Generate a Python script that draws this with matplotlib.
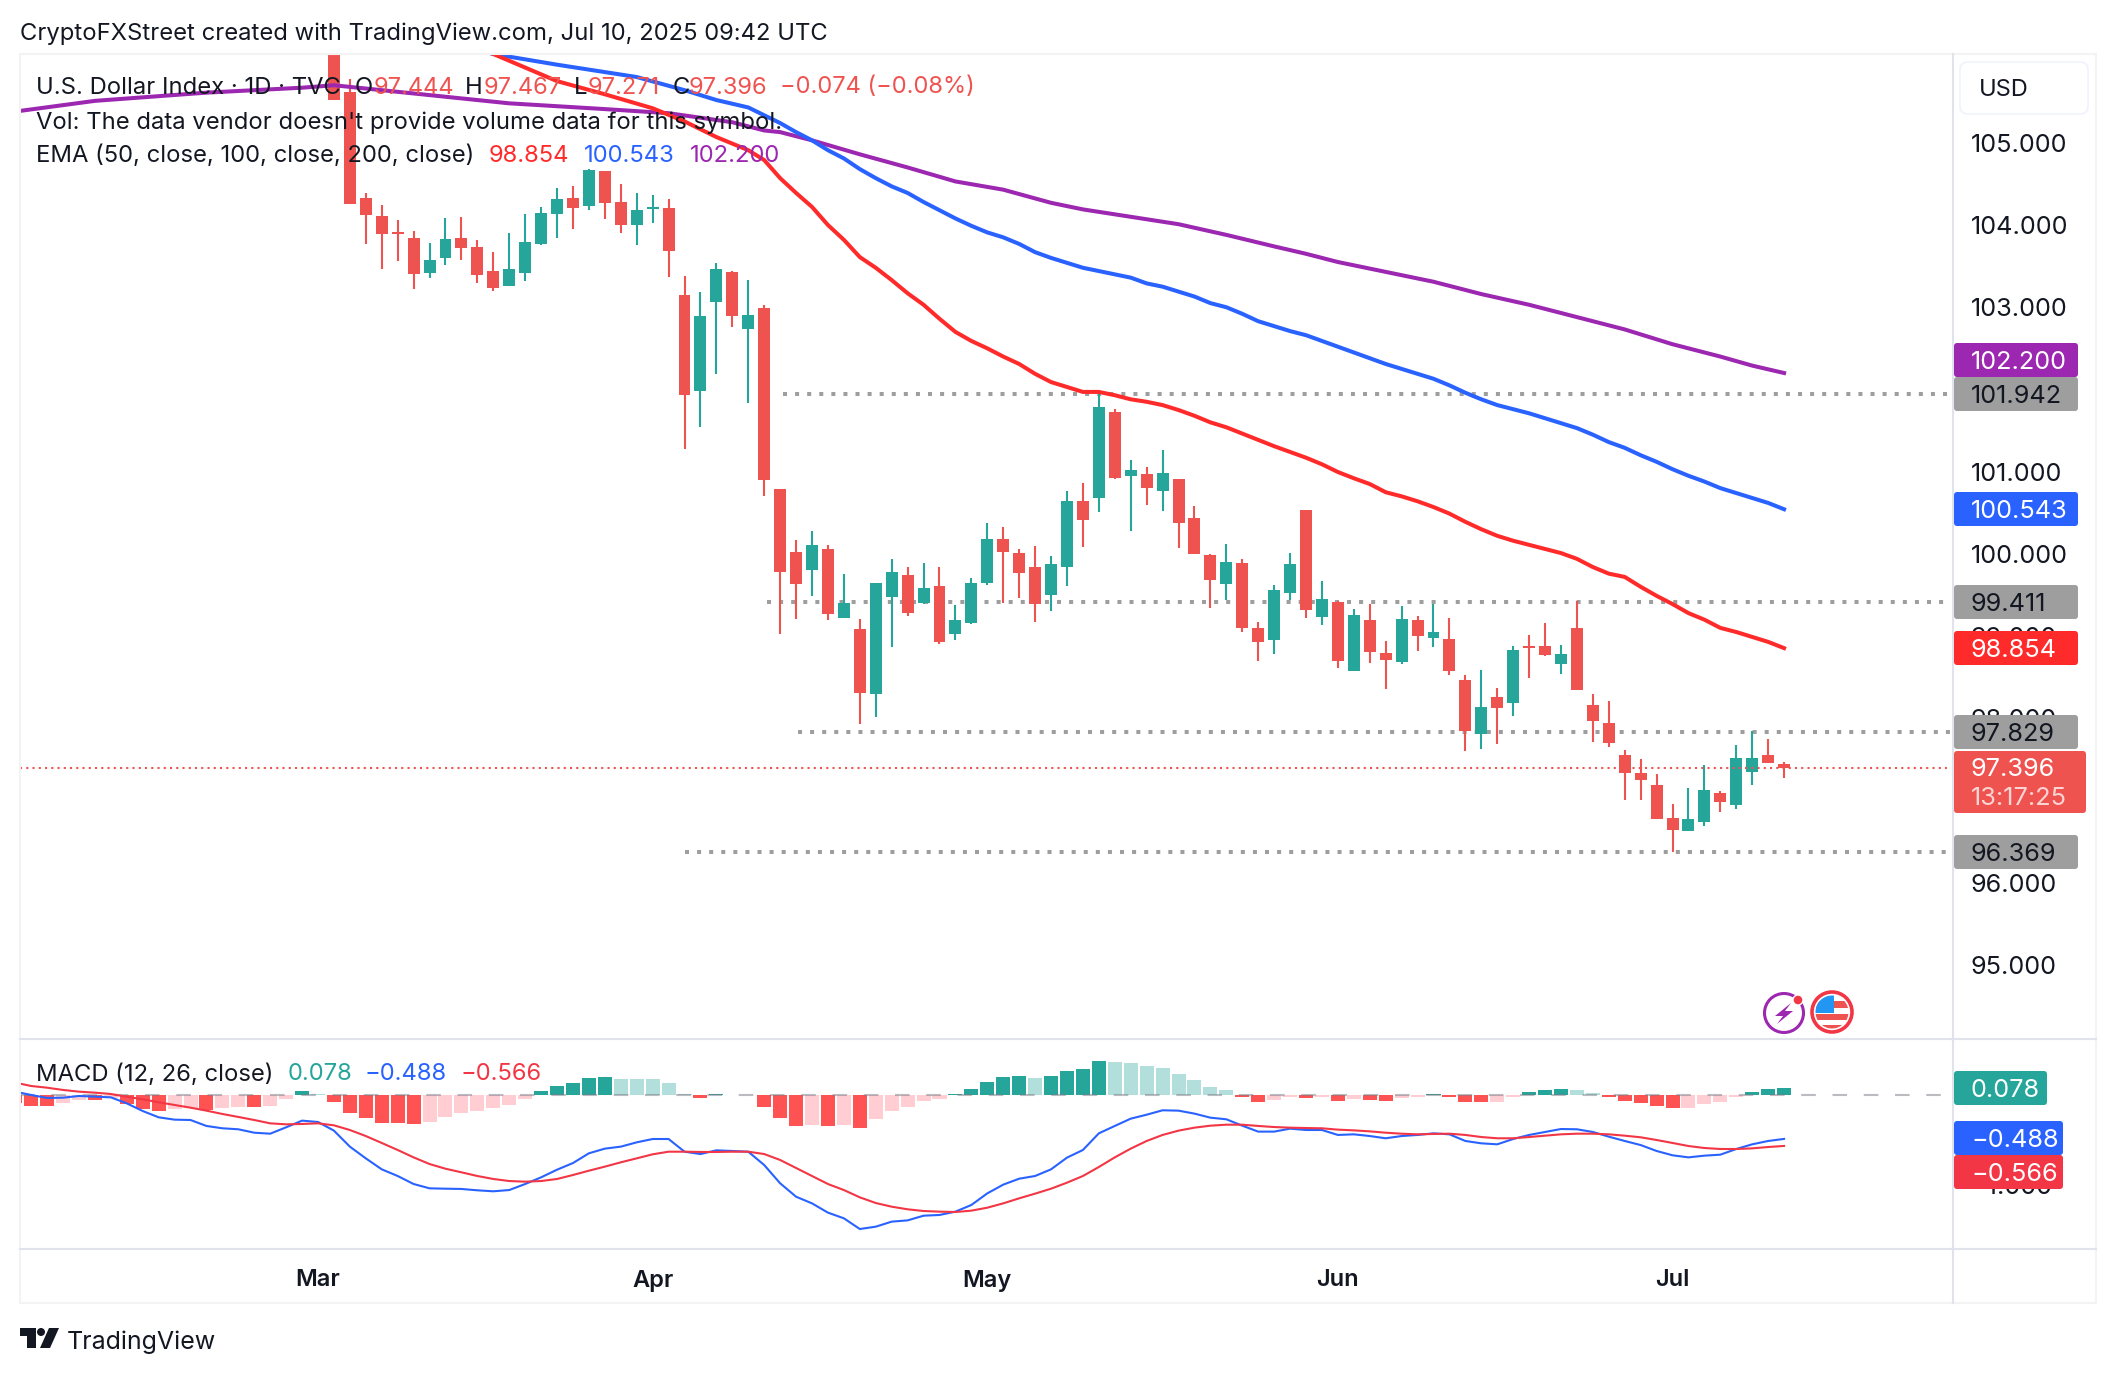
#Daily U.S. Dollar Index chart with EMAs and MACD, TradingView look

from matplotlib import pyplot as plt
from matplotlib.patches import FancyBboxPatch, Circle, Polygon, Rectangle
from matplotlib.transforms import blended_transform_factory
import numpy as np

plt.rcParams['font.family'] = ['Inter', 'DejaVu Sans']

#candles, bar 91 is Jul 10
opens = [106.60,105.62,104.33,104.11,103.91,103.84,103.42,103.60,103.84,103.73,103.44,103.26,103.42,103.77,104.13,104.33,104.23,104.66,104.28,104.00,104.19,104.21,103.15,101.98,103.06,103.43,102.73,102.99,100.79,100.02,99.81,100.06,99.22,99.09,98.30,99.47,99.74,99.40,99.61,99.03,99.16,99.65,100.18,100.01,99.84,99.50,99.84,100.64,100.68,101.73,100.95,100.97,100.77,100.91,100.44,99.99,99.63,99.89,99.10,98.95,99.53,100.54,99.23,99.42,98.58,99.19,98.80,98.69,99.20,98.98,98.97,98.47,97.81,98.26,98.19,98.88,98.88,98.66,99.10,98.16,97.94,97.56,97.34,97.19,96.79,96.63,96.74,97.09,96.95,97.35,97.56,97.444]
highs = [106.70,105.77,104.39,104.24,104.06,103.93,103.78,104.09,104.10,103.82,103.67,103.90,104.13,104.22,104.45,104.47,104.68,104.66,104.50,104.39,104.37,104.32,103.38,103.19,103.54,103.44,103.33,103.03,100.79,100.17,100.28,100.11,99.76,99.21,99.65,99.94,99.84,99.89,99.84,99.38,99.71,100.38,100.33,100.06,100.10,99.97,100.77,100.86,101.98,101.76,101.14,101.06,101.26,100.91,100.58,100.00,100.12,99.94,99.17,99.62,100.01,100.54,99.67,99.43,99.33,99.39,98.94,99.37,99.24,99.39,99.22,98.53,98.59,98.37,98.88,99.01,99.16,98.89,99.43,98.29,98.21,97.62,97.51,97.32,96.96,97.15,97.43,97.12,97.68,97.85,97.75,97.467]
lows = [105.52,104.25,103.77,103.46,103.56,103.22,103.35,103.51,103.57,103.29,103.20,103.26,103.32,103.76,103.84,103.95,104.18,104.07,103.90,103.76,104.02,103.37,101.28,101.54,102.19,102.76,101.84,100.70,99.02,99.21,99.49,99.19,99.22,97.93,98.02,98.87,99.24,99.39,98.91,98.95,99.15,99.62,99.40,99.46,99.17,99.30,99.61,100.08,100.51,100.91,100.28,100.60,100.52,100.07,100.00,99.34,99.44,99.05,98.70,98.78,99.44,99.22,99.14,98.61,98.58,98.67,98.36,98.66,98.82,98.87,98.53,97.60,97.63,97.69,98.03,98.49,98.76,98.54,98.35,97.71,97.65,97.01,97.01,96.78,96.37,96.63,96.69,96.86,96.90,97.19,97.46,97.271]
closes = [105.52,104.25,104.12,103.89,103.89,103.40,103.57,103.83,103.72,103.39,103.24,103.46,103.79,104.15,104.32,104.21,104.67,104.27,104.00,104.18,104.22,103.68,101.93,102.89,103.47,102.89,102.90,100.90,99.78,99.63,100.11,99.27,99.40,98.31,99.65,99.78,99.28,99.59,98.93,99.20,99.65,100.18,100.02,99.77,99.39,99.88,100.64,100.41,101.79,100.92,101.02,100.80,100.98,100.38,100.00,99.68,99.90,99.10,98.93,99.56,99.88,99.32,99.45,98.70,99.26,98.81,98.71,99.21,99.00,99.05,98.58,97.84,98.14,98.13,98.83,98.86,98.77,98.78,98.35,97.97,97.70,97.34,97.25,96.78,96.64,96.78,97.13,96.98,97.52,97.52,97.46,97.396]

#EMA lines, read at these bars
ema50_bars = [8,10,14,17,20,22,24,26,27,28,29,30,31,32,33,34,35,36,37,38,39,40,41,42,43,44,45,47,48,49,50,51,52,53,54,55,56,59,60,61,62,63,64,65,66,67,68,69,70,71,72,73,74,75,76,77,78,79,80,81,82,83,84,85,86,87,88,89,90,91]
ema50 = [106.24,106.08,105.75,105.59,105.42,105.26,105.07,104.91,104.79,104.57,104.39,104.22,104.00,103.82,103.61,103.48,103.33,103.17,103.03,102.86,102.70,102.59,102.50,102.40,102.31,102.19,102.09,101.97,101.97,101.93,101.88,101.85,101.81,101.75,101.68,101.60,101.54,101.31,101.24,101.17,101.09,100.996,100.92,100.85,100.75,100.70,100.64,100.57,100.49,100.39,100.30,100.22,100.16,100.11,100.06,100.01,99.94,99.84,99.76,99.72,99.60,99.49,99.39,99.28,99.20,99.10,99.05,98.99,98.93,98.854]
ema100_bars = [9,10,14,19,22,24,26] + list(range(28,92))
ema100 = [106.13,106.08,105.95,105.80,105.64,105.52,105.43,105.24,105.13,105.03,104.91,104.81,104.68,104.57,104.47,104.39,104.28,104.18,104.08,103.99,103.91,103.85,103.77,103.67,103.60,103.54,103.48,103.44,103.40,103.36,103.29,103.25,103.19,103.13,103.05,103.00,102.92,102.83,102.77,102.71,102.66,102.59,102.52,102.45,102.38,102.31,102.25,102.19,102.13,102.05,101.96,101.88,101.81,101.76,101.71,101.65,101.59,101.53,101.45,101.36,101.29,101.20,101.12,101.03,100.95,100.88,100.80,100.74,100.68,100.62,100.543]
ema200_bars = [-20,-15,-8,-2,0,5,11,17,21,25,27,28,30,33,36,39,42,45,47,50,53,56,59,61,63,66,69,72,75,78,81,84,87,89,91]
ema200 = [105.38,105.51,105.61,105.67,105.70,105.60,105.48,105.41,105.36,105.25,105.15,105.13,105.03,104.86,104.70,104.53,104.43,104.27,104.19,104.10,104.01,103.88,103.74,103.65,103.55,103.43,103.31,103.16,103.03,102.88,102.73,102.55,102.40,102.29,102.200]

#MACD pane, bars -20 to 91
macd_bars = list(range(-20,92))
macd_line = [0.037,0,-0.033,-0.030,-0.011,-0.019,-0.026,-0.093,-0.178,-0.248,-0.274,-0.278,-0.344,-0.370,-0.381,-0.419,-0.430,-0.359,-0.285,-0.300,
-0.396,-0.574,-0.704,-0.826,-0.900,-0.989,-1.037,-1.041,-1.044,-1.059,-1.070,-1.056,-0.989,-0.915,-0.830,-0.756,-0.648,-0.596,-0.574,-0.526,-0.489,-0.489,-0.630,-0.656,
-0.615,-0.622,-0.630,-0.778,-0.981,-1.130,-1.204,-1.307,-1.370,-1.489,-1.463,-1.407,-1.393,-1.341,-1.333,-1.296,-1.222,-1.093,-0.996,-0.930,-0.900,-0.826,-0.696,-0.611,-0.426,-0.344,-0.263,-0.219,-0.170,-0.174,-0.207,-0.252,-0.270,-0.341,-0.407,-0.407,-0.374,-0.389,-0.389,-0.444,-0.437,-0.456,-0.481,-0.456,
-0.444,-0.426,-0.437,-0.511,-0.537,-0.548,-0.489,-0.444,-0.411,-0.378,-0.381,-0.411,-0.463,-0.511,-0.556,-0.622,-0.670,-0.693,-0.674,-0.663,-0.600,-0.548,-0.511,-0.488]
signal_line = [0.137,0.100,0.081,0.056,0.037,0.026,0.011,-0.019,-0.048,-0.081,-0.111,-0.141,-0.174,-0.211,-0.244,-0.278,-0.315,-0.326,-0.322,-0.315,
-0.337,-0.389,-0.456,-0.533,-0.611,-0.693,-0.767,-0.819,-0.859,-0.900,-0.933,-0.956,-0.963,-0.956,-0.933,-0.889,-0.841,-0.796,-0.748,-0.704,-0.659,-0.630,-0.630,-0.633,
-0.633,-0.630,-0.630,-0.656,-0.722,-0.811,-0.900,-0.989,-1.056,-1.137,-1.200,-1.241,-1.270,-1.289,-1.296,-1.300,-1.285,-1.252,-1.204,-1.148,-1.096,-1.041,-0.974,-0.900,-0.800,-0.693,-0.596,-0.511,-0.444,-0.396,-0.363,-0.341,-0.330,-0.330,-0.344,-0.356,-0.363,-0.367,-0.370,-0.385,-0.393,-0.404,-0.419,-0.430,
-0.437,-0.433,-0.430,-0.444,-0.467,-0.481,-0.481,-0.467,-0.452,-0.437,-0.430,-0.430,-0.437,-0.452,-0.470,-0.500,-0.533,-0.567,-0.589,-0.600,-0.600,-0.593,-0.578,-0.566]
hist = [-0.09,-0.12,-0.12,-0.09,-0.055,-0.06,-0.03,-0.10,-0.155,-0.175,-0.16,-0.15,-0.165,-0.15,-0.13,-0.13,-0.12,-0.045,0.04,0.007,
-0.08,-0.195,-0.26,-0.31,-0.31,-0.32,-0.295,-0.24,-0.195,-0.175,-0.15,-0.11,-0.04,0.04,0.10,0.135,0.19,0.20,0.18,0.18,0.18,0.135,0.007,-0.03,
0.007,0.005,0.005,-0.13,-0.26,-0.34,-0.33,-0.35,-0.33,-0.363,-0.263,-0.175,-0.13,-0.063,-0.04,0.012,0.067,0.145,0.20,0.21,0.19,0.21,0.267,0.29,0.378,0.367,0.355,0.32,0.30,0.233,0.167,0.09,0.055,-0.02,-0.075,-0.052,-0.02,-0.03,-0.02,-0.063,-0.04,-0.052,-0.063,-0.03,
-0.02,0.007,-0.02,-0.075,-0.075,-0.075,-0.02,0.033,0.055,0.067,0.055,0.02,-0.02,-0.063,-0.085,-0.12,-0.14,-0.14,-0.096,-0.075,-0.02,0.033,0.067,0.078]
#S for the strong shade of a histogram bar, L for the light one
hist_shade = "SSSLLSLSSSLLSLLSLLSL" + "SSSSSSLLLLLLLSSSSSLLLLLS" + "SLLSSSLSLSLLLLLSSSSSLSSSSLLLLLLLLSSLLSLSLSSL" + "LSSSSLLSSSLLSSSSSLLLLSSS"

#horizontal levels drawn on the chart: price, first bar
level_prices = [101.942, 99.411, 97.829, 96.369]
level_starts = [28.2, 27.2, 29.1, 22.0]
last_price = 97.396

price_ticks = [105, 104, 103, 101, 100, 99, 98, 96, 95]
month_names = ['Mar', 'Apr', 'May', 'Jun', 'Jul']
month_bars = [-1, 20, 41, 63, 84]

GREEN = '#26A69A'
RED = '#EF5350'
BLUE = '#2962FF'
PURPLE = '#9C27B0'
EMA_RED = '#FF2B2B'
MACD_RED = '#F23645'
INK = '#131722'
GREY = '#9E9E9E'
FS = 17.15
SCALE_FS = 18.2

W, H = 2116, 1374
fig = plt.figure(figsize=(W/100, H/100), dpi=100, facecolor='white')

def pane(top, bottom):
    return fig.add_axes([20/W, 1-bottom/H, (1953-20)/W, (bottom-top)/H], facecolor='none')

ax = pane(54, 1039)
ax2 = pane(1039, 1249)
#whole figure in pixels, for the frame, price scale and legends
over = fig.add_axes([0, 0, 1, 1], facecolor='none', zorder=5)
over.set_xlim(0, W)
over.set_ylim(H, 0)
over.axis('off')

for a in (ax, ax2):
    a.set_xlim(-19.7, 101.6)
    a.axis('off')
ax.set_ylim(94.10, 106.08)
ax2.set_ylim(-1.711, 0.622)

#candles
bars = np.arange(len(opens))
o = np.array(opens)
c = np.array(closes)
colors = [GREEN if c[i] >= o[i] else RED for i in bars]
ax.vlines(bars, lows, highs, colors=colors, linewidth=1.5, zorder=3)
ax.bar(bars, np.abs(c-o), bottom=np.minimum(o, c), width=0.75, color=colors, linewidth=0, zorder=3)

#EMAs
ax.plot(ema200_bars, ema200, color=PURPLE, linewidth=2.9, zorder=4)
ax.plot(ema100_bars, ema100, color=BLUE, linewidth=2.9, zorder=4)
ax.plot(ema50_bars, ema50, color=EMA_RED, linewidth=2.9, zorder=4)

#level lines run up to the price scale
for price, start in zip(level_prices, level_starts):
    ax.plot([start, 101.4], [price, price], color=GREY, linewidth=2.9, linestyle=(0, (1, 2)),
            dash_capstyle='butt', zorder=2)
ax.plot([-19.7, 101.2], [last_price, last_price], color=RED, linewidth=1.5, linestyle=(0, (1, 2)),
        dash_capstyle='butt', zorder=5)

#MACD
hist_colors = []
for v, s in zip(hist, hist_shade):
    if v >= 0:
        hist_colors.append('#26A69A' if s == 'S' else '#B2DFDB')
    else:
        hist_colors.append('#FF5252' if s == 'S' else '#FFCDD2')
ax2.bar(macd_bars, hist, width=0.88, color=hist_colors, linewidth=0, zorder=2)
ax2.axhline(0, color='#787B86', alpha=0.5, linewidth=1.5, linestyle=(0, (7, 8)), zorder=3)
ax2.plot(macd_bars, macd_line, color=BLUE, linewidth=1.5, zorder=4)
ax2.plot(macd_bars, signal_line, color=MACD_RED, linewidth=1.5, zorder=4)

#frame and pane separators
frame = '#F3F3F3'
sep = '#E0E3EB'
over.add_patch(Rectangle((19.5, 53.5), 2096-19.5, 1303-53.5, fill=False, edgecolor=frame, linewidth=1.5))
over.plot([1953, 1953], [54, 1303], color=sep, linewidth=1.5)
over.plot([20, 2096], [1039, 1039], color=sep, linewidth=1.5)
over.plot([20, 2096], [1249, 1249], color=sep, linewidth=1.5)

def txt(x, y, s, color=INK, **kw):
    kw.setdefault('fontsize', FS)
    return over.text(x, y, s, color=color, va='center_baseline', ha=kw.pop('ha', 'left'), **kw)

def box(x0, x1, y0, y1, color):
    over.add_patch(FancyBboxPatch((x0, y0), x1-x0, y1-y0, boxstyle='round,pad=0,rounding_size=3',
                                  facecolor=color, edgecolor='none', zorder=3))

#price scale, tick y comes from the price axis
price_trans = blended_transform_factory(over.transData, ax.transData)
for p in price_ticks:
    over.text(1971, p, '%.3f' % p, color=INK, fontsize=SCALE_FS, va='center_baseline', transform=price_trans, zorder=2)
macd_trans = blended_transform_factory(over.transData, ax2.transData)
over.text(2052, -1.0, '\u22121.000', color=INK, fontsize=SCALE_FS, va='center_baseline', ha='right', transform=macd_trans, zorder=2)

over.add_patch(FancyBboxPatch((1960, 62), 128, 52, boxstyle='round,pad=0,rounding_size=8',
                              facecolor='white', edgecolor='#F0F3FA', linewidth=1.2))
txt(1979, 87, 'USD', fontsize=17)

#y centre, text, box colour, text colour
price_tags = [(360, '102.200', PURPLE, 'white'),
              (394, '101.942', GREY, INK),
              (509, '100.543', BLUE, 'white'),
              (602, '99.411', GREY, INK),
              (648, '98.854', EMA_RED, 'white'),
              (732, '97.829', GREY, INK),
              (852, '96.369', GREY, INK)]
for yc, s, col, tc in price_tags:
    box(1954, 2078, yc-17, yc+17, col)
    txt(1971, yc, s, tc, zorder=4, fontsize=SCALE_FS)
box(1954, 2086, 751, 813, RED)
txt(1971, 767, '97.396', 'white', zorder=4, fontsize=SCALE_FS)
txt(1971, 796, '13:17:25', '#FBD5D4', zorder=4, fontsize=SCALE_FS)

box(1954, 2047, 1071, 1105, GREEN)
txt(1971, 1088, '0.078', 'white', zorder=4, fontsize=SCALE_FS)
box(1954, 2063, 1121, 1155, BLUE)
txt(1971, 1138, '\u22120.488', 'white', zorder=4, fontsize=SCALE_FS)
box(1954, 2063, 1155, 1189, MACD_RED)
txt(1971, 1172, '\u22120.566', 'white', zorder=4, fontsize=SCALE_FS)

#month labels
time_trans = blended_transform_factory(ax.transData, over.transData)
for name, b in zip(month_names, month_bars):
    over.text(b, 1278, name, color=INK, fontsize=17, fontweight='semibold', ha='center',
              va='center_baseline', transform=time_trans)

#header and legends
txt(20, 31, 'CryptoFXStreet created with TradingView.com, Jul 10, 2025 09:42 UTC')
txt(36.5, 85, 'U.S. Dollar Index \u00b7 1D \u00b7 TVC')
for x, s in [(355, 'O'), (465, 'H'), (574, 'L'), (673, 'C')]:
    txt(x, 85, s)
for x, s in [(374, '97.444'), (484, '97.467'), (588, '97.271'), (689, '97.396'), (780, '\u22120.074 (\u22120.08%)')]:
    txt(x, 85, s, RED, fontsize=17)
txt(36.5, 120, "Vol: The data vendor doesn't provide volume data for this symbol.")
txt(36.5, 153, 'EMA (50, close, 100, close, 200, close)')
txt(489, 153, '98.854', EMA_RED)
txt(584, 153, '100.543', BLUE)
txt(690, 153, '102.200', PURPLE)
txt(36.5, 1072, 'MACD (12, 26, close)')
txt(288, 1072, '0.078', GREEN)
txt(365, 1072, '\u22120.488', BLUE)
txt(461, 1072, '\u22120.566', MACD_RED)

#TradingView logo
logo = '#131722'
over.add_patch(Polygon([(20, 1328), (36, 1328), (36, 1348), (27, 1348), (27, 1336), (20, 1336)], facecolor=logo, edgecolor='none'))
over.add_patch(Circle((41, 1332), 4, facecolor=logo, edgecolor='none'))
over.add_patch(Polygon([(49, 1328), (59, 1328), (50, 1348), (40, 1348)], facecolor=logo, edgecolor='none'))
txt(67, 1340, 'TradingView', fontsize=18)

#the two badges at the last bar
over.add_patch(Circle((1784, 1013), 19.5, facecolor='white', edgecolor=PURPLE, linewidth=2.2))
over.add_patch(Polygon([(1791, 1003), (1775, 1016), (1783, 1016), (1777, 1024), (1793, 1011), (1785, 1011)], facecolor=PURPLE, edgecolor='none'))
over.add_patch(Circle((1798, 1000), 5, facecolor=MACD_RED, edgecolor='white', linewidth=1))
flag = Circle((1832, 1012), 16.5, transform=over.transData)
for yy, col in [(996, 'white'), (1001, RED), (1008, 'white'), (1014, RED), (1020, 'white'), (1025, RED)]:
    r = Rectangle((1815, yy), 34, 6.5, facecolor=col, edgecolor='none')
    over.add_patch(r)
    r.set_clip_path(flag)
canton = Rectangle((1815, 995), 19, 18, facecolor='#2196F3', edgecolor='none')
over.add_patch(canton)
canton.set_clip_path(flag)
over.add_patch(Circle((1832, 1012), 20, facecolor='none', edgecolor=MACD_RED, linewidth=2.6))

fig.savefig('out.png', dpi=100, facecolor='white')
